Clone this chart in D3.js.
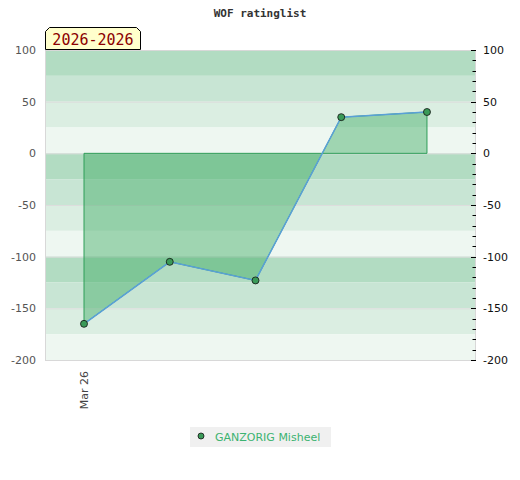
<!DOCTYPE html>
<html><head><meta charset="utf-8">
<script src="https://cdn.jsdelivr.net/npm/d3@7"></script>
<style>body{margin:0;background:#fff}svg{display:block}</style>
</head><body>
<svg id="c" width="520" height="480"></svg>
<script>
const title = "WOF ratinglist";
const periodLabel = "2026-2026";
const seriesName = "GANZORIG Misheel";
const dates = ["Mar 26", "", "", "", ""];
const values = [-165, -105, -123, 35, 40];
const yTicks = [100, 50, 0, -50, -100, -150, -200];
const bandEdges = [100, 75, 50, 25, 0, -25, -50, -75, -100, -125, -150, -175, -200];
const bandColors = ["#b2dcc2", "#c8e5d4", "#dbeee2", "#eef7f1"];

const svg = d3.select("#c");
const L = 45, R = 475, T = 50, B = 360;
const x = d3.scaleLinear().domain([-0.455, 4.56]).range([L, R]);
const y = d3.scaleLinear().domain([-200, 100]).range([B, T]);

// bands
for (let i = 0; i < bandEdges.length - 1; i++) {
  svg.append("rect").attr("x", L).attr("width", R - L)
    .attr("y", y(bandEdges[i])).attr("height", y(bandEdges[i + 1]) - y(bandEdges[i]))
    .attr("fill", bandColors[i % 4]);
}
// gridlines
yTicks.forEach(t => {
  svg.append("line").attr("x1", L).attr("x2", R).attr("y1", y(t) + 0.5).attr("y2", y(t) + 0.5)
    .attr("stroke", "#dddddd").attr("stroke-width", 1);
});
svg.append("rect").attr("x", L + 0.5).attr("y", T + 0.5).attr("width", R - L).attr("height", B - T)
  .attr("fill", "none").attr("stroke", "#d8d8d8");

// area
const pts = values.map((v, i) => [x(i), y(v)]);
const areaPath = "M" + x(0) + "," + y(0) + "L" + pts.map(p => p.join(",")).join("L") + "L" + x(values.length - 1) + "," + y(0) + "Z";
svg.append("path").attr("d", areaPath).attr("fill", "#3daa63").attr("fill-opacity", 0.45)
  .attr("stroke", "#2f9e58").attr("stroke-width", 1);
svg.append("path").attr("d", d3.line()(pts)).attr("fill", "none").attr("stroke", "#5aa0d8").attr("stroke-width", 1.5);
svg.selectAll("circle.pt").data(values).enter().append("circle")
  .attr("cx", (d, i) => x(i)).attr("cy", d => y(d)).attr("r", 3.5)
  .attr("fill", "#3a9a58").attr("stroke", "#111").attr("stroke-width", 0.8);

// left axis
const la = svg.append("g").attr("transform", `translate(${L},0)`)
  .call(d3.axisLeft(y).tickValues(yTicks).tickFormat(d => String(d)).tickSize(0).tickPadding(9));
la.select(".domain").remove();
la.selectAll("text").attr("fill", "#555").style("font-family", "DejaVu Sans").style("font-size", "11px");

// right axis
const ra = svg.append("g").attr("transform", `translate(${R + 1},0)`);
d3.range(-200, 101, 10).forEach(t => {
  const major = t % 50 === 0;
  ra.append("line").attr("x1", major ? -5 : -3.5).attr("x2", 0).attr("y1", Math.round(y(t)) + 0.5).attr("y2", Math.round(y(t)) + 0.5)
    .attr("stroke", "#000");
});
yTicks.forEach(t => {
  ra.append("text").attr("x", 7).attr("y", y(t)).attr("dy", "0.35em").text(String(t))
    .attr("fill", "#111").style("font-family", "DejaVu Sans").style("font-size", "11px");
});

// x labels
dates.forEach((d, i) => {
  if (!d) return;
  svg.append("text").attr("transform", `translate(${x(i) + 4},${B + 11}) rotate(-90)`)
    .attr("text-anchor", "end").text(d).attr("fill", "#444")
    .style("font-family", "DejaVu Sans").style("font-size", "11px");
});

// title
svg.append("text").attr("x", 260).attr("y", 17).attr("text-anchor", "middle").text(title)
  .attr("fill", "#333").style("font-family", "DejaVu Sans Mono").style("font-weight", "bold").style("font-size", "11px");

// period label box
const bx = 45.5, by = 27.5, bw = 95, bh = 22, c = 4;
svg.append("path").attr("d", `M${bx},${by + bh}L${bx},${by + c}L${bx + c},${by}L${bx + bw - c},${by}L${bx + bw},${by + c}L${bx + bw},${by + bh}Z`)
  .attr("fill", "#ffffcc").attr("stroke", "#000").attr("stroke-width", 1);
svg.append("text").attr("x", bx + bw / 2).attr("y", by + 17).attr("text-anchor", "middle").text(periodLabel)
  .attr("fill", "#8b0000").style("font-family", "DejaVu Sans Mono").style("font-size", "15px");

// legend
svg.append("rect").attr("x", 190).attr("y", 427).attr("width", 141).attr("height", 20).attr("fill", "#f0f0f0");
svg.append("circle").attr("cx", 201).attr("cy", 436).attr("r", 3).attr("fill", "#3a9a58").attr("stroke", "#111").attr("stroke-width", 0.8);
svg.append("text").attr("x", 215).attr("y", 441).text(seriesName).attr("fill", "#3cb371")
  .style("font-family", "DejaVu Sans").style("font-size", "11px");
</script>
</body></html>
